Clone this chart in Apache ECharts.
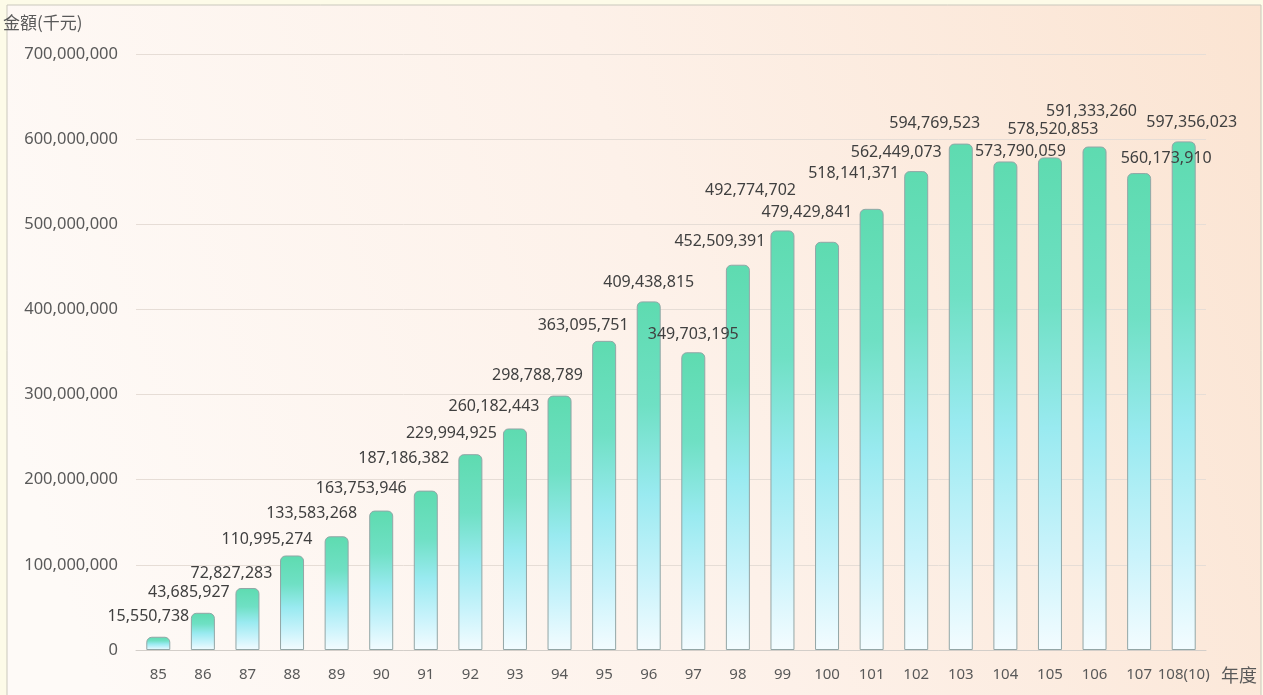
<!DOCTYPE html>
<html lang="zh-Hant">
<head>
<meta charset="utf-8">
<title>金額(千元)</title>
<script src="https://cdn.jsdelivr.net/npm/echarts@6/dist/echarts.min.js"></script>
<style>
    html, body { margin: 0; padding: 0; background: #fdfbe8; }
    #chart { width: 1263px; height: 695px; }
</style>
</head>
<body>
<div id="chart"></div>
<script>
// 年度 / 金額(千元)
var years = ['85', '86', '87', '88', '89', '90', '91', '92', '93', '94', '95', '96',
    '97', '98', '99', '100', '101', '102', '103', '104', '105', '106', '107', '108(10)'];
var amounts = [15550738, 43685927, 72827283, 110995274, 133583268, 163753946,
    187186382, 229994925, 260182443, 298788789, 363095751, 409438815,
    349703195, 452509391, 492774702, 479429841, 518141371, 562449073,
    594769523, 573790059, 578520853, 591333260, 560173910, 597356023];
var yMax = 700000000;
var yStep = 100000000;

// where the excel labels sat relative to the top of each bar
var labelShift = [[-10, -20], [-14, -20], [-16, -15], [-25, -16], [-25, -23], [-20, -22],
    [-22, -32], [-19, -21], [-21, -22], [-22, -20], [-21, -15], [0, -19],
    [0, -18], [-18, -23], [-32, -40], [-20, -29], [-18, -35], [-20, -19],
    [-26, -20], [15, -10], [3, -28], [-3, -35], [27, -15], [8, -19]];

function fmt(v) {
    return Number(v).toLocaleString('en-US');
}

var chart = echarts.init(document.getElementById('chart'));

var barData = amounts.map(function (v, i) {
    return {
        value: v,
        label: { offset: [labelShift[i][0], labelShift[i][1] + 8] }
    };
});

chart.setOption({
    backgroundColor: '#fdfbe8',
    animation: false,
    textStyle: { fontFamily: '"Noto Sans", "Noto Sans CJK TC", sans-serif' },
    graphic: [
        {
            type: 'rect',
            z: -10,
            shape: { x: 7, y: 5, width: 1254, height: 692 },
            style: {
                fill: new echarts.graphic.LinearGradient(0, 0.6, 1, 0, [
                    { offset: 0, color: '#fefaf7' },
                    { offset: 0.5, color: '#fdf1e9' },
                    { offset: 1, color: '#fbe4d2' }
                ]),
                stroke: '#c9c7bd',
                lineWidth: 1
            }
        },
        {
            type: 'text',
            left: 3,
            top: 14,
            style: {
                text: '金額(千元)',
                fill: '#595959',
                font: '17px "Noto Sans CJK TC", sans-serif'
            }
        },
        {
            type: 'text',
            left: 1221,
            top: 666,
            style: {
                text: '年度',
                fill: '#595959',
                font: '18px "Noto Sans CJK TC", sans-serif'
            }
        }
    ],
    grid: { left: 136, right: 57, top: 54, bottom: 45 },
    xAxis: {
        type: 'category',
        data: years,
        axisLine: { lineStyle: { color: '#d3cec9', width: 1 } },
        axisTick: { show: false },
        axisLabel: {
            interval: 0,
            margin: 17,
            color: '#595959',
            fontSize: 15
        }
    },
    yAxis: {
        type: 'value',
        min: 0,
        max: yMax,
        interval: yStep,
        axisLine: { show: false },
        axisTick: { show: false },
        axisLabel: {
            margin: 18,
            color: '#595959',
            fontSize: 16.5,
            formatter: fmt
        },
        splitLine: { lineStyle: { color: '#e6ddd6', width: 1 } }
    },
    series: [{
        type: 'bar',
        data: barData,
        barWidth: 24,
        itemStyle: {
            borderColor: '#93a6a6',
            borderWidth: 1,
            borderRadius: [5, 5, 0, 0],
            color: new echarts.graphic.LinearGradient(0, 0, 0, 1, [
                { offset: 0, color: '#5edbb0' },
                { offset: 0.3, color: '#6fe0c4' },
                { offset: 0.55, color: '#99eaf0' },
                { offset: 0.8, color: '#c9f3fb' },
                { offset: 1, color: '#f3fcff' }
            ])
        },
        label: {
            show: true,
            position: 'top',
            distance: 0,
            color: '#404040',
            fontSize: 16,
            formatter: function (p) { return fmt(p.value); }
        }
    }]
});
</script>
</body>
</html>
